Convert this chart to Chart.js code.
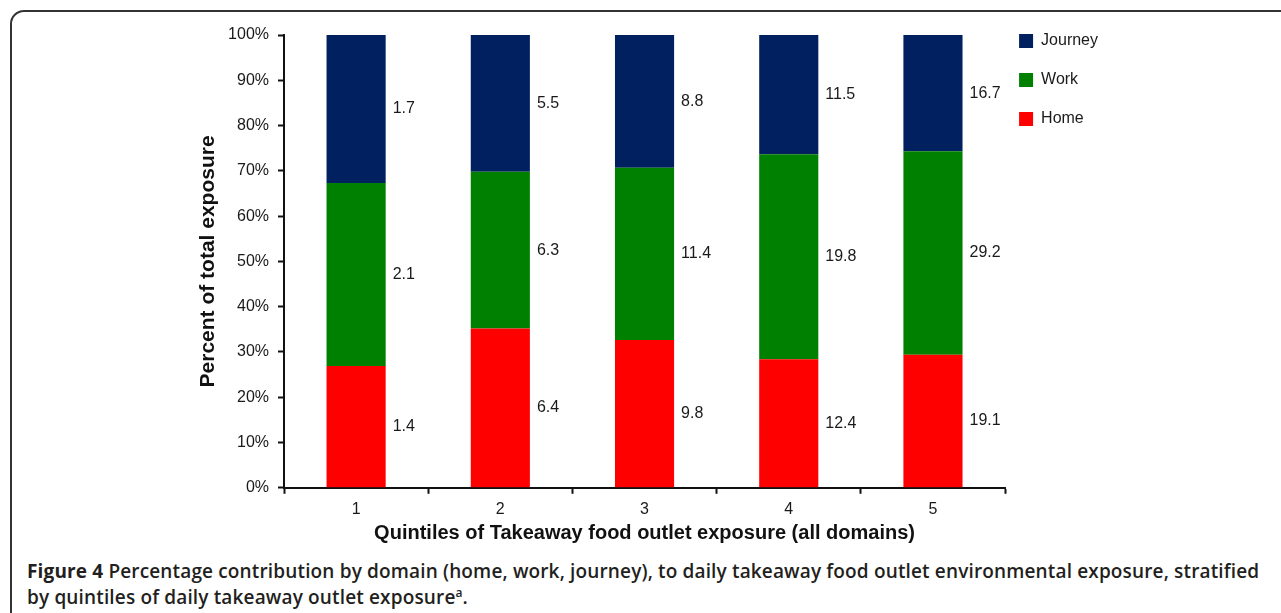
<!DOCTYPE html>
<html>
<head>
<meta charset="utf-8">
<script src="https://cdn.jsdelivr.net/npm/chart.js"></script>
<style>
  body { margin: 0; background: #fff; }
  #frame {
    position: absolute; left: 10px; top: 10px; width: 1300px; height: 700px;
    border: 2px solid #333; border-radius: 14px; box-sizing: border-box;
  }
  #chart { position: absolute; left: 0; top: 0; }
  #caption {
    position: absolute; left: 27px; top: 558px;
    font-family: "Open Sans", sans-serif; font-size: 19px; font-weight: 600;
    letter-spacing: 0.15px;
    color: #231f20; line-height: 26px; white-space: nowrap;
  }
  #caption b { font-weight: 700; }
  #caption sup { font-size: 12px; line-height: 0; }
</style>
</head>
<body>
<div id="frame"></div>
<canvas id="chart" width="1281" height="552"></canvas>
<div id="caption"><b>Figure 4</b> Percentage contribution by domain (home, work, journey), to daily takeaway food outlet environmental exposure, stratified<br>by quintiles of daily takeaway outlet exposure<sup>a</sup>.</div>

<script>
// data (mean daily exposure by domain, per quintile)
const quintiles = ["1", "2", "3", "4", "5"];
const home = [1.4, 6.4, 9.8, 12.4, 19.1];
const work = [2.1, 6.3, 11.4, 19.8, 29.2];
const journey = [1.7, 5.5, 8.8, 11.5, 16.7];

// bars show each domain as share of the quintile total
const totals = quintiles.map((q, i) => home[i] + work[i] + journey[i]);
const share = arr => arr.map((v, i) => v / totals[i] * 100);

const font = "'Liberation Sans', Arial, sans-serif";

// write the raw value to the right of each segment
const valueLabels = {
  id: "valueLabels",
  afterDatasetsDraw(chart) {
    const ctx = chart.ctx;
    ctx.save();
    ctx.font = "16px " + font;
    ctx.fillStyle = "#1a1a1a";
    ctx.textAlign = "left";
    ctx.textBaseline = "middle";
    chart.data.datasets.forEach((ds, d) => {
      chart.getDatasetMeta(d).data.forEach((bar, i) => {
        ctx.fillText(ds.raw[i].toFixed(1), bar.x + bar.width / 2 + 7, (bar.y + bar.base) / 2);
      });
    });
    ctx.restore();
  }
};

// nudge the legend closer to the plot
const legendNudge = {
  id: "legendNudge",
  afterLayout(chart) {
    chart.legend.left = chart.chartArea.right - 9;
  }
};

new Chart(document.getElementById("chart"), {
  type: "bar",
  data: {
    labels: quintiles,
    datasets: [
      { label: "Home", data: share(home), raw: home, backgroundColor: "#ff0000" },
      { label: "Work", data: share(work), raw: work, backgroundColor: "#008000" },
      { label: "Journey", data: share(journey), raw: journey, backgroundColor: "#002060" }
    ]
  },
  options: {
    responsive: false,
    animation: false,
    events: [],
    datasets: { bar: { categoryPercentage: 1, barPercentage: 0.41 } },
    layout: { padding: { top: 10, left: 188, right: 164, bottom: 6 } },
    plugins: {
      tooltip: { enabled: false },
      legend: {
        position: "right",
        align: "start",
        reverse: true,
        labels: {
          boxWidth: 14, boxHeight: 14, padding: 23,
          color: "#1a1a1a",
          font: { family: font, size: 16 }
        }
      }
    },
    scales: {
      x: {
        stacked: true,
        grid: { drawOnChartArea: false, tickLength: 6, tickColor: "#111", tickWidth: 2 },
        border: { color: "#111", width: 2 },
        ticks: { color: "#1a1a1a", padding: 6, font: { family: font, size: 16 } },
        title: {
          display: true,
          text: "Quintiles of Takeaway food outlet exposure (all domains)",
          color: "#111",
          padding: { top: -4, bottom: 1 },
          font: { family: font, size: 20, weight: "bold" }
        }
      },
      y: {
        stacked: true,
        min: 0, max: 100,
        afterFit(scale) { scale.width = 96; scale.paddingTop = 35; },
        grid: { drawOnChartArea: false, tickLength: 6, tickColor: "#111", tickWidth: 2 },
        border: { color: "#111", width: 2 },
        ticks: {
          stepSize: 10, padding: 9, color: "#1a1a1a",
          font: { family: font, size: 16 },
          callback: v => v + "%"
        },
        title: {
          display: true,
          text: "Percent of total exposure",
          color: "#111",
          padding: { top: 8, bottom: 0 },
          font: { family: font, size: 21, weight: "bold" }
        }
      }
    }
  },
  plugins: [valueLabels, legendNudge]
});
</script>
</body>
</html>
